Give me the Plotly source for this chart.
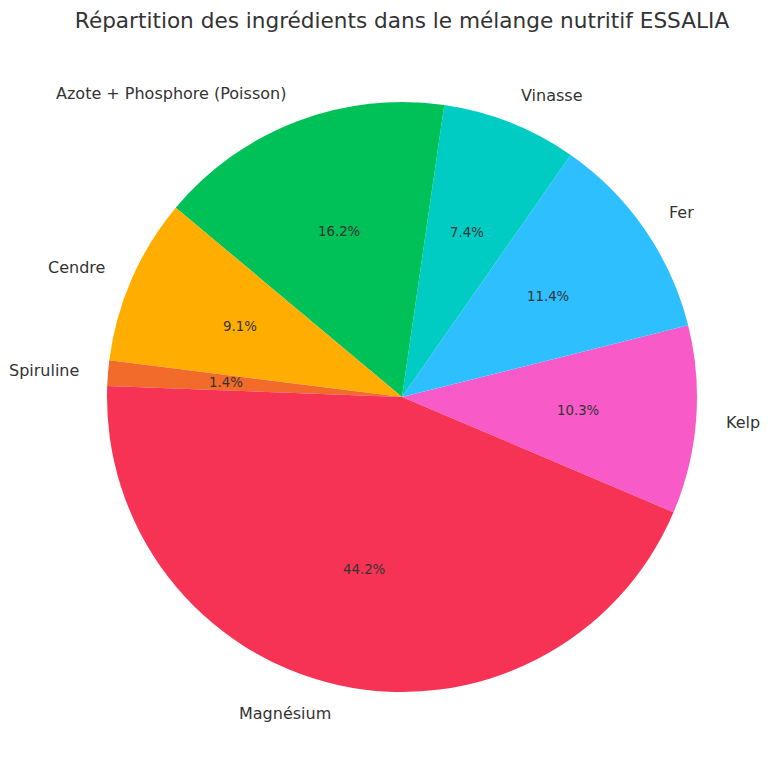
import math
import plotly.graph_objects as go

labels = ["Kelp", "Fer", "Vinasse", "Azote + Phosphore (Poisson)", "Cendre", "Spiruline", "Magnésium"]
values = [10.3, 11.4, 7.4, 16.2, 9.1, 1.4, 44.2]
colors = ["#F85AC8", "#2DBFFF", "#00CCC4", "#00C158", "#FFAE00", "#F26B2A", "#F63355"]
title = "Répartition des ingrédients dans le mélange nutritif ESSALIA"

OFF = 8                            # page body margin in the browser
W, H = 768 - 2 * OFF, 770 - 2 * OFF
cx, cy, r = 402 - OFF, 397 - OFF, 295   # pie centre and radius in figure pixels
start_deg = -23.0                  # math angle where the first slice starts
font = "DejaVu Sans"
txt = "#333333"

total = sum(values)
first_end = start_deg + 360 * values[0] / total

fig = go.Figure(go.Pie(
    labels=labels, values=values, sort=False,
    direction="counterclockwise", rotation=90 - first_end,
    marker=dict(colors=colors, line=dict(width=0)),
    textinfo="none", hoverinfo="label+percent", showlegend=False,
    domain=dict(x=[(cx - r) / W, (cx + r) / W], y=[1 - (cy + r) / H, 1 - (cy - r) / H]),
))

ann = []
acc = 0.0
for lab, v in zip(labels, values):
    mid = math.radians(start_deg + 360 * (acc + v / 2) / total)
    acc += v
    c, s = math.cos(mid), math.sin(mid)
    lx, ly = cx + 1.1 * r * c, cy - 1.1 * r * s
    ann.append(dict(x=lx / W, y=1 - ly / H, xref="paper", yref="paper", text=lab,
                    showarrow=False, xanchor="left" if c > 0 else "right", yanchor="middle",
                    borderpad=0, borderwidth=0, font=dict(family=font, size=16, color=txt)))
    px_, py_ = cx + 0.6 * r * c, cy - 0.6 * r * s
    ann.append(dict(x=px_ / W, y=1 - py_ / H, xref="paper", yref="paper", text=f"{100 * v / total:.1f}%",
                    showarrow=False, xanchor="center", yanchor="middle",
                    borderpad=0, borderwidth=0, font=dict(family=font, size=13.3, color=txt)))

fig.update_layout(
    width=W, height=H, margin=dict(l=0, r=0, t=0, b=0),
    paper_bgcolor="white", plot_bgcolor="white",
    title=dict(text=title, x=cx / W, xanchor="center", y=1 - (20 - OFF) / H, yanchor="middle",
               yref="container", font=dict(family=font, size=21.6, color=txt)),
    annotations=ann,
)
fig.write_html("out.html")
